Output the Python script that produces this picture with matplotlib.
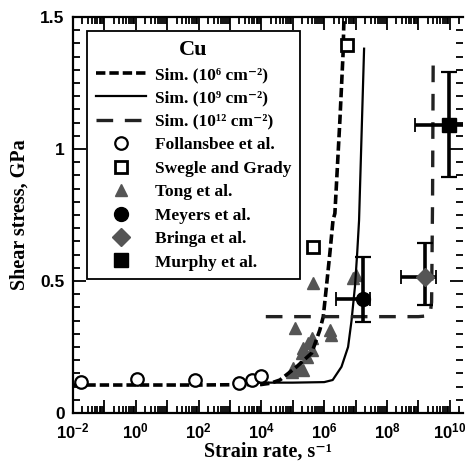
import numpy as np
import matplotlib.pyplot as plt
from matplotlib.ticker import LogLocator, MultipleLocator, FixedLocator, NullFormatter

plt.rcParams['mathtext.fontset'] = 'custom'
plt.rcParams['mathtext.bf'] = 'Liberation Sans:bold'
plt.rcParams['mathtext.rm'] = 'Liberation Sans:bold'

# ---- data (log10 strain rate, shear stress in GPa) ----
sim6_lx = [-2.0, 0.0, 2.0, 4.0, 4.3, 4.59, 5.12, 5.6, 5.86, 5.97, 6.07, 6.18, 6.28, 6.34, 6.5, 6.6, 6.63]
sim6_y = [0.106, 0.106, 0.106, 0.108, 0.113, 0.125, 0.175, 0.227, 0.314, 0.365, 0.478, 0.605, 0.73, 0.756, 1.11, 1.36, 1.5]

sim9_lx = [3.8, 5.0, 6.0, 6.27, 6.55, 6.76, 6.87, 6.98, 7.05, 7.11, 7.27]
sim9_y = [0.115, 0.115, 0.117, 0.125, 0.175, 0.25, 0.35, 0.48, 0.605, 0.73, 1.38]

sim12_lx = [4.14, 9.0, 9.3, 9.38, 9.42, 9.45, 9.47]
sim12_y = [0.365, 0.365, 0.368, 0.38, 0.42, 0.8, 1.32]

foll_lx = [-1.75, 0.03, 1.88, 3.29, 3.69, 4.0]
foll_y = [0.119, 0.129, 0.125, 0.115, 0.125, 0.141]

swegle_lx = [6.71, 5.63]
swegle_y = [1.394, 0.628]

tong_lx = [5.65, 5.07, 6.18, 6.23, 5.6, 5.49, 5.33, 5.6, 5.28, 5.44, 5.01, 4.96, 5.22, 5.33, 6.92, 7.0]
tong_y = [0.494, 0.321, 0.314, 0.295, 0.283, 0.264, 0.245, 0.239, 0.226, 0.213, 0.169, 0.156, 0.175, 0.163, 0.51, 0.523]

meyers_lx, meyers_y = 7.24, 0.43
meyers_xerr = (6.39, 7.47)
meyers_yerr = (0.346, 0.592)

bringa_lx, bringa_y = 9.2, 0.516
bringa_xerr = (8.46, 9.57)
bringa_yerr = (0.409, 0.643)

murphy_lx, murphy_y = 9.98, 1.09
murphy_xerr = (8.88, 11.0)
murphy_yerr = (0.895, 1.293)

x_major = [10.0 ** k for k in range(-2, 11)]
x_labels = [r'$\mathbf{10^{%d}}$' % k if k % 2 == 0 else '' for k in range(-2, 11)]

legend_labels = ['Sim. (10⁶ cm⁻²)', 'Sim. (10⁹ cm⁻²)', 'Sim. (10¹² cm⁻²)',
                 'Follansbee et al.', 'Swegle and Grady', 'Tong et al.',
                 'Meyers et al.', 'Bringa et al.', 'Murphy et al.']

gray = '#555555'
serif = ['Liberation Serif', 'DejaVu Serif']


def p(lx):
    return 10.0 ** np.asarray(lx)


fig = plt.figure(figsize=(4.65, 4.63), dpi=100)
ax = fig.add_axes([73 / 465, 50 / 463, 390 / 465, 396 / 463])

# data markers under the lines
ax.plot(p(tong_lx), tong_y, '^', color=gray, ms=9, mec=gray, ls='none', zorder=2)

l6, = ax.plot(p(sim6_lx), sim6_y, color='black', lw=2.6, dashes=(2.6, 1.1), zorder=3)
l9, = ax.plot(p(sim9_lx), sim9_y, color='black', lw=1.6, zorder=3)
l12, = ax.plot(p(sim12_lx), sim12_y, color='#222222', lw=2.4, dashes=(5, 3.5), zorder=3)

hf, = ax.plot(p(foll_lx), foll_y, 'o', mfc='white', mec='black', mew=1.6, ms=9, ls='none', zorder=4)
hs, = ax.plot(p(swegle_lx), swegle_y, 's', mfc='white', mec='black', mew=2, ms=8, ls='none', zorder=4)
ht, = ax.plot([], [], '^', color=gray, ms=9, ls='none')


def errbar(lx, y, xr, yr, marker, color, ms):
    x = 10 ** lx
    xlo, xhi = 10 ** xr[0], 10 ** xr[1]
    ax.errorbar([x], [y], xerr=[[x - xlo], [xhi - x]], fmt='none', ecolor='black',
                elinewidth=2.6, capsize=5, capthick=1.3, zorder=5)
    ax.errorbar([x], [y], yerr=[[y - yr[0]], [yr[1] - y]], fmt='none', ecolor='black',
                elinewidth=2.6, capsize=6, capthick=1.6, zorder=5)
    h, = ax.plot([x], [y], marker, color=color, ms=ms, ls='none', zorder=6)
    return h


hm = errbar(meyers_lx, meyers_y, meyers_xerr, meyers_yerr, 'o', 'black', 10)
hb = errbar(bringa_lx, bringa_y, bringa_xerr, bringa_yerr, 'D', gray, 9)
hmu = errbar(murphy_lx, murphy_y, murphy_xerr, murphy_yerr, 's', 'black', 10)

ax.set_xscale('log')
ax.set_xlim(1e-2, 10 ** 10.42)
ax.set_ylim(0, 1.5)

ax.xaxis.set_major_locator(FixedLocator(x_major))
ax.set_xticklabels(x_labels)
ax.xaxis.set_minor_locator(LogLocator(base=10, subs=np.arange(2, 10), numticks=30))
ax.xaxis.set_minor_formatter(NullFormatter())
ax.yaxis.set_major_locator(FixedLocator([0, 0.5, 1, 1.5]))
ax.set_yticklabels(['0', '0.5', '1', '1.5'])
ax.yaxis.set_minor_locator(MultipleLocator(0.05))

ax.tick_params(which='both', direction='in', top=True, right=True, width=1.3)
ax.tick_params(which='major', length=9.5)
ax.tick_params(which='minor', length=5)
ax.tick_params(axis='x', which='major', labelsize=12, pad=6)
ax.tick_params(axis='y', which='major', labelsize=12.5, pad=6)
for lab in ax.get_xticklabels() + ax.get_yticklabels():
    lab.set_fontfamily('Liberation Sans')
    lab.set_fontweight('bold')

for side in ['left', 'bottom', 'top']:
    ax.spines[side].set_linewidth(1.6)
ax.spines['right'].set_visible(False)

ax.set_xlabel('Strain rate, s⁻¹', family=serif, weight='bold', fontsize=14.5, labelpad=0)
ax.set_ylabel('Shear stress, GPa', family=serif, weight='bold', fontsize=14.5, labelpad=8)

handles = [l6, l9, l12, hf, hs, ht, hm, hb, hmu]
leg = ax.legend(handles, legend_labels, title='Cu', loc='upper left', bbox_to_anchor=(0.036, 0.965),
                borderaxespad=0, prop={'family': serif, 'weight': 'bold', 'size': 12.5},
                title_fontproperties={'family': serif, 'weight': 'bold', 'size': 16},
                handlelength=2.9, handletextpad=0.5, labelspacing=0.42, fancybox=False,
                framealpha=1, edgecolor='black', borderpad=0.5)
leg.get_frame().set_linewidth(1.3)

fig.savefig('out.png', dpi=100)
